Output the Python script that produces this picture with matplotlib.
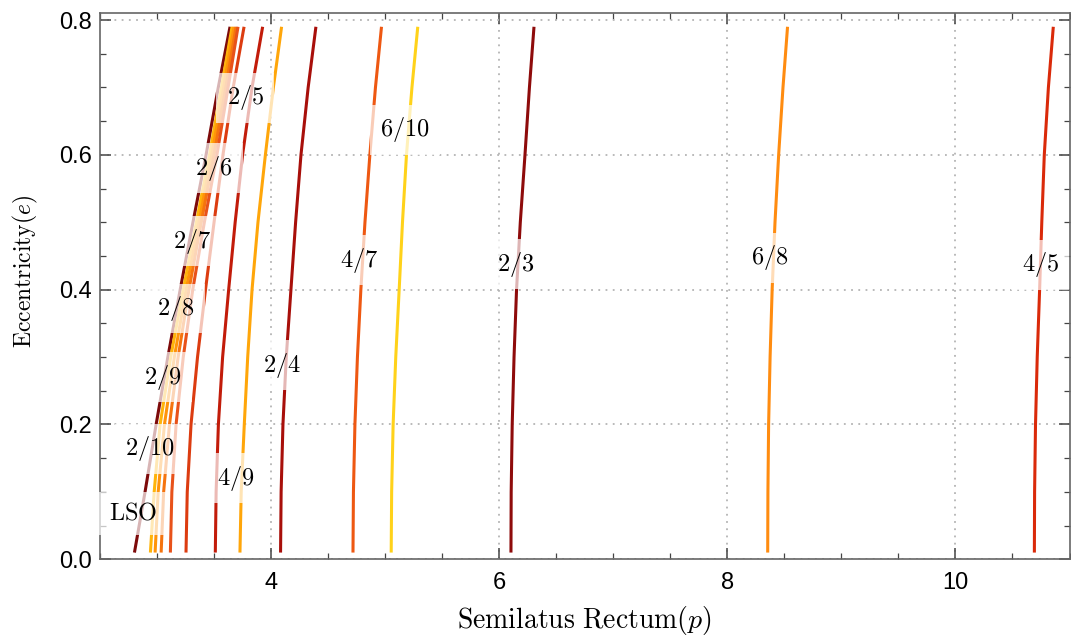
'''Orbites périodiques : excentricité vs semi-latus rectum'''

import matplotlib.pyplot as plt
from matplotlib.ticker import MultipleLocator, FormatStrFormatter

plt.rcParams['font.family'] = ['Liberation Sans', 'DejaVu Sans']
plt.rcParams['mathtext.fontset'] = 'cm'

# eccentricity levels where the curves were read
ecc = [0.01, 0.1, 0.2, 0.3, 0.4, 0.5, 0.6, 0.7, 0.79]

# semilatus rectum of each curve at those levels
p_lso = [2.802, 2.895, 2.992, 3.095, 3.203, 3.315, 3.430, 3.537, 3.640]
p_2_10 = [2.942, 2.975, 3.027, 3.120, 3.230, 3.345, 3.460, 3.565, 3.658]
p_2_9 = [2.983, 3.010, 3.065, 3.152, 3.255, 3.367, 3.480, 3.584, 3.675]
p_2_8 = [3.036, 3.058, 3.109, 3.185, 3.280, 3.388, 3.500, 3.603, 3.693]
p_2_7 = [3.117, 3.130, 3.167, 3.230, 3.313, 3.415, 3.525, 3.623, 3.710]
p_2_6 = [3.254, 3.265, 3.298, 3.355, 3.425, 3.500, 3.578, 3.668, 3.763]
p_2_5 = [3.511, 3.518, 3.538, 3.575, 3.628, 3.685, 3.750, 3.833, 3.926]
p_4_9 = [3.727, 3.738, 3.765, 3.795, 3.833, 3.885, 3.950, 4.020, 4.092]
p_2_4 = [4.083, 4.088, 4.104, 4.133, 4.174, 4.215, 4.262, 4.325, 4.393]
p_4_7 = [4.718, 4.722, 4.735, 4.757, 4.787, 4.823, 4.866, 4.915, 4.968]
p_6_10 = [5.053, 5.057, 5.070, 5.093, 5.123, 5.152, 5.187, 5.235, 5.286]
p_2_3 = [6.103, 6.105, 6.114, 6.130, 6.152, 6.185, 6.226, 6.265, 6.305]
p_6_8 = [8.354, 8.356, 8.362, 8.375, 8.393, 8.418, 8.450, 8.488, 8.528]
p_4_5 = [10.692, 10.694, 10.702, 10.717, 10.738, 10.757, 10.779, 10.815, 10.858]

noms = ['LSO', '2/10', '2/9', '2/8', '2/7', '2/6', '2/5', '4/9', '2/4',
        '4/7', '6/10', '2/3', '6/8', '4/5']
courbes = [p_lso, p_2_10, p_2_9, p_2_8, p_2_7, p_2_6, p_2_5, p_4_9, p_2_4,
           p_4_7, p_6_10, p_2_3, p_6_8, p_4_5]
couleurs = ['#7d0a0a', '#ffb40a', '#ff940a', '#f5740f', '#e8521a', '#dc3c10',
            '#c21c0a', '#ffa60a', '#a80f0a', '#ee5812', '#ffd21a', '#8e0b0b',
            '#ff8c10', '#da2a0a']

# label positions (p, e)
label_p = [2.793, 2.940, 3.050, 3.167, 3.304, 3.494, 3.774, 3.693, 4.095,
           4.772, 5.175, 6.144, 8.370, 10.744]
label_e = [0.068, 0.164, 0.270, 0.372, 0.472, 0.580, 0.685, 0.120, 0.288,
           0.444, 0.637, 0.438, 0.447, 0.437]

fig = plt.figure(figsize=(10.71, 6.42), dpi=100)
ax = fig.add_axes([100 / 1071, 1 - 559.3 / 642, 969.5 / 1071, 546 / 642])

for p, c in zip(courbes, couleurs):
    ax.plot(p, ecc, color=c, lw=2.2, solid_capstyle='butt', zorder=2)

for nom, x, y in zip(noms, label_p, label_e):
    ax.text(x, y, r'$\mathrm{' + nom + '}$', fontsize=17.5, ha='center', va='center',
            zorder=5, bbox=dict(boxstyle='square,pad=0.43', facecolor='white',
                                edgecolor='none', alpha=0.7))

ax.set_xlim(2.5, 11.0)
ax.set_ylim(0, 0.81)
ax.xaxis.set_major_locator(MultipleLocator(2))
ax.xaxis.set_minor_locator(MultipleLocator(0.5))
ax.yaxis.set_major_locator(MultipleLocator(0.2))
ax.yaxis.set_minor_locator(MultipleLocator(0.05))
ax.yaxis.set_major_formatter(FormatStrFormatter('%.1f'))

ax.grid(True, which='major', color='#b4b4b4', linestyle=(0, (1, 3)), linewidth=1.3)
ax.set_axisbelow(True)

ax.tick_params(which='both', direction='in', top=True, right=True, color='#444444')
ax.tick_params(which='major', length=8, width=1.1, labelsize=17)
ax.tick_params(which='minor', length=4.5, width=0.9)
ax.tick_params(axis='x', pad=9)
ax.tick_params(axis='y', pad=6)
for s in ax.spines.values():
    s.set_color('#666666')
    s.set_linewidth(1.2)

ax.set_xlabel(r'$\mathrm{Semilatus\ Rectum}(p)$', fontsize=20)
ax.set_ylabel(r'$\mathrm{Eccentricity}(e)$', fontsize=17)
ax.xaxis.set_label_coords(0.5, -0.081)
ax.yaxis.set_label_coords(-0.062, 0.528)

fig.savefig('out.png', dpi=100)
